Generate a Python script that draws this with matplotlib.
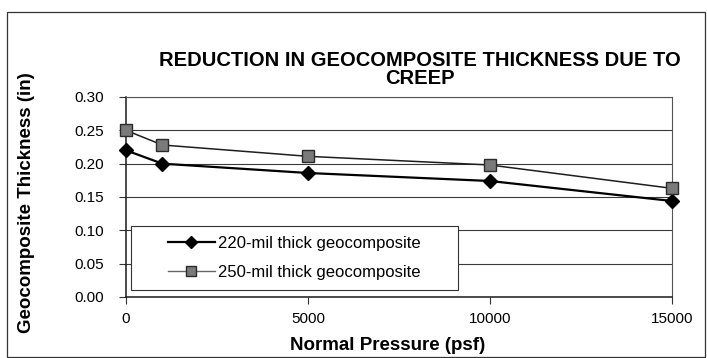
import matplotlib.pyplot as plt
from matplotlib.lines import Line2D
from matplotlib.patches import Rectangle

plt.rcParams["font.family"] = ["Liberation Sans", "DejaVu Sans"]

# normal pressure (psf) and measured thickness (in)
pressure = [0, 1000, 5000, 10000, 15000]
thick_220 = [0.220, 0.200, 0.186, 0.174, 0.144]
thick_250 = [0.250, 0.228, 0.211, 0.198, 0.163]

labels = ["220-mil thick geocomposite", "250-mil thick geocomposite"]
x_ticks = [0, 5000, 10000, 15000]
y_ticks = [0.00, 0.05, 0.10, 0.15, 0.20, 0.25, 0.30]

W, H = 707, 358
fig = plt.figure(figsize=(W / 100, H / 100), dpi=100)

# plot area in pixel coords: left 126, right 672, top 97, bottom 297
L, R, T, B = 126, 672, 97, 297
ax = fig.add_axes([L / W, 1 - B / H, (R - L) / W, (B - T) / H])

# outer chart border
fig.patches.append(Rectangle((7 / W, 1 / H), 698 / W, 345 / H, transform=fig.transFigure,
                             fill=False, edgecolor="#333333", linewidth=0.9))

for y in y_ticks[1:]:
    ax.axhline(y, color="#3a3a3a", linewidth=0.8, zorder=1)

style_220 = dict(color="black", linewidth=1.6, marker="D", markersize=7.5,
                 markerfacecolor="black", markeredgecolor="black")
style_250 = dict(color="#1e1e1e", linewidth=1.1, marker="s", markersize=8,
                 markerfacecolor="#7a7a7a", markeredgecolor="#2a2a2a")

ax.plot(pressure, thick_220, clip_on=False, zorder=3, **style_220)
ax.plot(pressure, thick_250, clip_on=False, zorder=3, **style_250)

ax.set_xlim(0, 15000)
ax.set_ylim(0, 0.30)
ax.set_xticks(x_ticks)
ax.set_yticks(y_ticks)
ax.set_yticklabels([f"{v:.2f}" for v in y_ticks])
ax.tick_params(axis="both", labelsize=11, length=5, width=0.8, direction="out", color="#333333")
ax.tick_params(axis="y", pad=11)
ax.tick_params(axis="x", pad=6)

for side in ["top", "right"]:
    ax.spines[side].set_color("#555555")
    ax.spines[side].set_linewidth(0.8)
for side in ["left", "bottom"]:
    ax.spines[side].set_color("#1a1a1a")
    ax.spines[side].set_linewidth(1.1)

ax.set_xlabel("Normal Pressure (psf)", fontsize=13.5, fontweight="bold")
ax.xaxis.label.set_va("center")
ax.xaxis.set_label_coords((388 - L) / (R - L), (B - 345) / (B - T))
ax.set_ylabel("Geocomposite Thickness (in)", fontsize=13.5, fontweight="bold")
ax.yaxis.label.set_va("center")
ax.yaxis.set_label_coords((27 - L) / (R - L), (B - 203) / (B - T))

fig.text(420 / W, 1 - 60 / H, "REDUCTION IN GEOCOMPOSITE THICKNESS DUE TO",
         ha="center", va="center", fontsize=14.5, fontweight="bold")
fig.text(420 / W, 1 - 78 / H, "CREEP",
         ha="center", va="center", fontsize=14.5, fontweight="bold")

# legend: box drawn separately so the keys can sit well inside it
ax.add_patch(Rectangle((131 / W, 1 - 290 / H), (458 - 131) / W, (290 - 226) / H,
                       transform=fig.transFigure, facecolor="white", clip_on=False,
                       edgecolor="#333333", linewidth=0.8, zorder=4))
handles = [Line2D([], [], **dict(style_220, markersize=6.5)),
           Line2D([], [], **dict(style_250, color="#666666", linewidth=1.0, markersize=7))]
leg = ax.legend(handles, labels, loc="center left",
                bbox_to_anchor=(168 / W, 1 - 258 / H), bbox_transform=fig.transFigure,
                fontsize=12, frameon=False, handlelength=2.8, handletextpad=0.2,
                labelspacing=0.8, borderpad=0, borderaxespad=0)
leg.set_zorder(5)

fig.savefig("out.png", dpi=100)
